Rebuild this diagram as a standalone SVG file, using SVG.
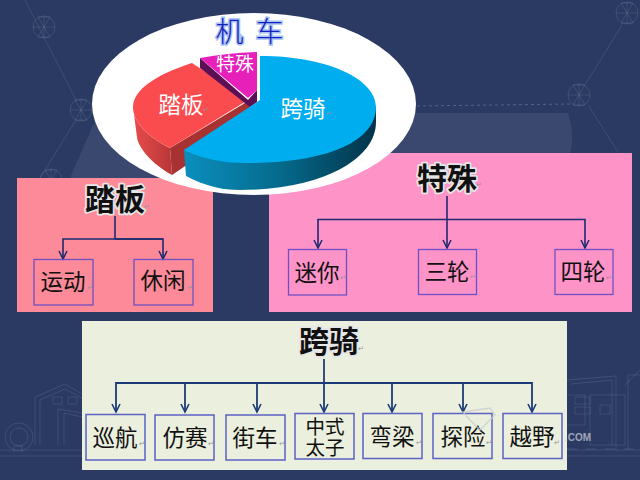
<svg xmlns="http://www.w3.org/2000/svg" width="640" height="480" viewBox="0 0 640 480">
<style>
text{font-family:"Noto Sans CJK SC","Liberation Serif",serif;text-anchor:middle}
.box{fill:none;stroke:#6f50c4;stroke-width:1.3}
.box2{fill:none;stroke:#5a62c4;stroke-width:1.5}
.lbl{font-size:22.500px;fill:#111;font-weight:400}
.head{font-size:30px;font-weight:700;fill:#111;stroke:#e6e6e6;stroke-width:3.500px;paint-order:stroke;stroke-linejoin:round}
.con{fill:none;stroke:#1d2a70;stroke-width:1.600}
.con2{fill:none;stroke:#1c3a78;stroke-width:1.800}
.pie{font-size:22.500px;fill:#fff}
.mark{font-family:"DejaVu Sans",sans-serif;font-size:7px;fill:#9a8f9a}
.bg{fill:none;stroke:#8a97b5;stroke-opacity:.22}
.hex{fill:none;stroke:#93a0b8;stroke-opacity:.2}
</style>
<defs>
<marker id="a" markerWidth="11" markerHeight="10" refX="9" refY="5" orient="auto" markerUnits="userSpaceOnUse"><path d="M1 1L9 5L1 9" fill="none" stroke="#1d2a70" stroke-width="1.500"/></marker>
<marker id="b" markerWidth="11" markerHeight="10" refX="9" refY="5" orient="auto" markerUnits="userSpaceOnUse"><path d="M1 1L9 5L1 9" fill="none" stroke="#1c3a78" stroke-width="1.600"/></marker>
<linearGradient id="bs" x1="0" x2="1" y1="0" y2="0"><stop offset="0" stop-color="#0a8fbd"/><stop offset=".5" stop-color="#056a8c"/><stop offset="1" stop-color="#023349"/></linearGradient>
<linearGradient id="rs" x1="0" x2="1" y1="0" y2="0"><stop offset="0" stop-color="#e84c4c"/><stop offset="1" stop-color="#b83636"/></linearGradient>
<g id="hx"><circle r="11"/><path d="M-6 -10L6 10M6 -10L-6 10M-11 0H11M-6 -10H6M-6 10H6M0 -11V11"/></g>
</defs>
<rect width="640" height="480" fill="#2a3a63"/>
<g id="backdrop">
<path d="M70 178L93 125L110 113H568Q575 135 570 155V178Z" fill="#3a4870"/>
<g class="hex"><use href="#hx" x="44" y="27"/><use href="#hx" x="81" y="110"/><use href="#hx" x="51" y="180"/><use href="#hx" x="627" y="13"/><use href="#hx" x="579" y="95"/></g>
<path class="hex" d="M25 0L76 100M76 120L40 178M622 25L585 85M588 105L620 155"/>
<path d="M417 106L572 104" fill="none" stroke="#93a0b8" stroke-opacity=".4" stroke-dasharray="3 3"/>
<path class="bg" d="M35 445V397L65 384L82 394M40 445V400L65 389L82 398M53 397H62V404H53ZM68 397H77V404H68ZM58 445V409L82 413M64 445V413L82 417M0 450H82M0 456H82M14 452V446H22V452"/>
<circle class="bg" cx="19" cy="437" r="14"/><circle class="bg" cx="19" cy="437" r="9"/>
<path class="bg" d="M567 380L616 376V450M571 384L612 380V445M567 395H585V425H567M590 395V445H625V395H590M625 385L640 370M628 450V375H640M600 405H610V414H600ZM575 397H590V404H575ZM575 407H590V414H575ZM567 450H640M567 456H640"/>
<path d="M567 449H640" stroke="#8a97b5" stroke-opacity=".25" stroke-dasharray="10 9" fill="none"/>
</g>
<g id="panel-taban">
<rect x="17" y="178" width="196" height="134" fill="#fd8a98"/>
<text class="head" x="115" y="210">踏板</text><text class="mark" x="147" y="209">↵</text>
</g>
<g id="panel-teshu">
<rect x="269" y="153" width="363" height="159" fill="#fe93c8"/>
<text class="head" x="447" y="189">特殊</text><text class="mark" x="479" y="187">↵</text>
</g>
<g id="panel-kuaqi">
<rect x="82" y="321" width="485" height="149" fill="#ebefdd"/>
<text class="head" x="329" y="352">跨骑</text><text class="mark" x="361" y="351">↵</text>
</g>
<g id="chart">
<ellipse cx="254" cy="104" rx="162" ry="91" fill="#fff"/>
<text x="251" y="42" font-size="28" fill="#1420c0" stroke="#a9c4f0" stroke-width="3" paint-order="stroke" font-weight="300" style="letter-spacing:3px">机 车</text>
<path d="M133 107C133 122 148 137 170 148L172 175C145 160 137 142 137 137Z" fill="url(#rs)"/>
<path d="M170 148L172 175L250 122V100Z" fill="#a83232"/>
<path d="M248 100L170 148C148 137 133 122 133 107C133 90 155 75 192 63Z" fill="#fa4b4f"/>
<path d="M200 58L200 68L250 107L257 102V90L248 100Z" fill="#5c0f55"/>
<path d="M200 58Q228 53 257 52V90L248 98Z" fill="#e620b8"/>
<path d="M184 150L186 176C205 186 222 190 240 190C320 190 376 160 376 122V106L260 110Z" fill="url(#bs)"/>
<path d="M260 56C330 56 376 80 376 107C376 140 330 163 247 163C225 163 205 160 184 150L260 100Z" fill="#00aeef"/>
<text class="pie" x="181" y="113">踏板</text><text class="mark" x="206" y="112">↵</text>
<text class="pie" x="303" y="117">跨骑</text><text class="mark" x="329" y="116">↵</text>
<text class="pie" x="235" y="71" style="font-size:19px">特殊</text>
</g>
<g id="connectors">
<path class="con" d="M115 216V239M163 239H63V259" marker-end="url(#a)"/>
<path class="con" d="M115 239H163V259" marker-end="url(#a)"/>
<path class="con" d="M447 196V248" marker-end="url(#a)"/>
<path class="con" d="M447 219.500H318V248" marker-end="url(#a)"/>
<path class="con" d="M447 219.500H585V248" marker-end="url(#a)"/>
<path class="con2" d="M324 359V412" marker-end="url(#b)"/>
<path class="con2" d="M324 383H116V412" marker-end="url(#b)"/>
<path class="con2" d="M324 383H532V412" marker-end="url(#b)"/>
<path class="con2" d="M185 383V412" marker-end="url(#b)"/>
<path class="con2" d="M257 383V412" marker-end="url(#b)"/>
<path class="con2" d="M392 383V412" marker-end="url(#b)"/>
<path class="con2" d="M463 383V412" marker-end="url(#b)"/>
</g>
<g id="n-yundong"><rect class="box" x="34" y="259.500" width="59" height="45.500"/><text class="lbl" x="63" y="290">运动</text><text class="mark" x="90" y="290">↵</text></g>
<g id="n-xiuxian"><rect class="box" x="134" y="259.500" width="59" height="45.500"/><text class="lbl" x="163" y="289">休闲</text><text class="mark" x="190" y="290">↵</text></g>
<g id="n-mini"><rect class="box" x="288.500" y="249.500" width="58" height="45.500"/><text class="lbl" x="317" y="281">迷你</text><text class="mark" x="343" y="280">↵</text></g>
<g id="n-sanlun"><rect class="box" x="418.500" y="249.500" width="58" height="45"/><text class="lbl" x="447" y="280">三轮</text><text class="mark" x="473" y="279">↵</text></g>
<g id="n-silun"><rect class="box" x="555" y="249.500" width="58" height="45"/><text class="lbl" x="583" y="280">四轮</text><text class="mark" x="609" y="280">↵</text></g>
<g id="n-xunhang"><rect class="box2" x="86" y="414.500" width="59" height="45.500"/><text class="lbl" x="115" y="446">巡航</text><text class="mark" x="142" y="446">↵</text></g>
<g id="n-fangsai"><rect class="box2" x="155" y="415" width="59" height="45"/><text class="lbl" x="185" y="446">仿赛</text><text class="mark" x="211" y="446">↵</text></g>
<g id="n-jieche"><rect class="box2" x="226" y="415" width="59" height="45"/><text class="lbl" x="255" y="446">街车</text><text class="mark" x="282" y="446">↵</text></g>
<g id="n-taizi"><rect class="box2" x="295" y="413.500" width="59" height="45.500"/><text class="lbl" style="font-size:19.500px"><tspan x="325" y="434">中式</tspan><tspan x="325" y="455">太子</tspan></text></g>
<g id="n-wanliang"><rect class="box2" x="363" y="413.500" width="59" height="45"/><text class="lbl" x="392" y="445">弯梁</text><text class="mark" x="419" y="445">↵</text></g>
<g id="n-tanxian"><rect class="box2" x="433" y="413.500" width="59" height="45"/><text class="lbl" x="463" y="445">探险</text><text class="mark" x="489" y="445">↵</text></g>
<g id="n-yueye"><rect class="box2" x="503" y="413.500" width="59" height="45"/><text class="lbl" x="532" y="445">越野</text><text class="mark" x="557" y="445">↵</text></g>
<g id="watermark" opacity=".75">
<path d="M463 412L490 408L495 415L480 430L470 420Z" fill="none" stroke="#c8ccd0" stroke-width="1.500"/>
<text x="578" y="441" style="font-family:'Liberation Sans',sans-serif;font-size:10px;fill:#c4c8d0;font-weight:700">.COM</text>
</g>
</svg>
